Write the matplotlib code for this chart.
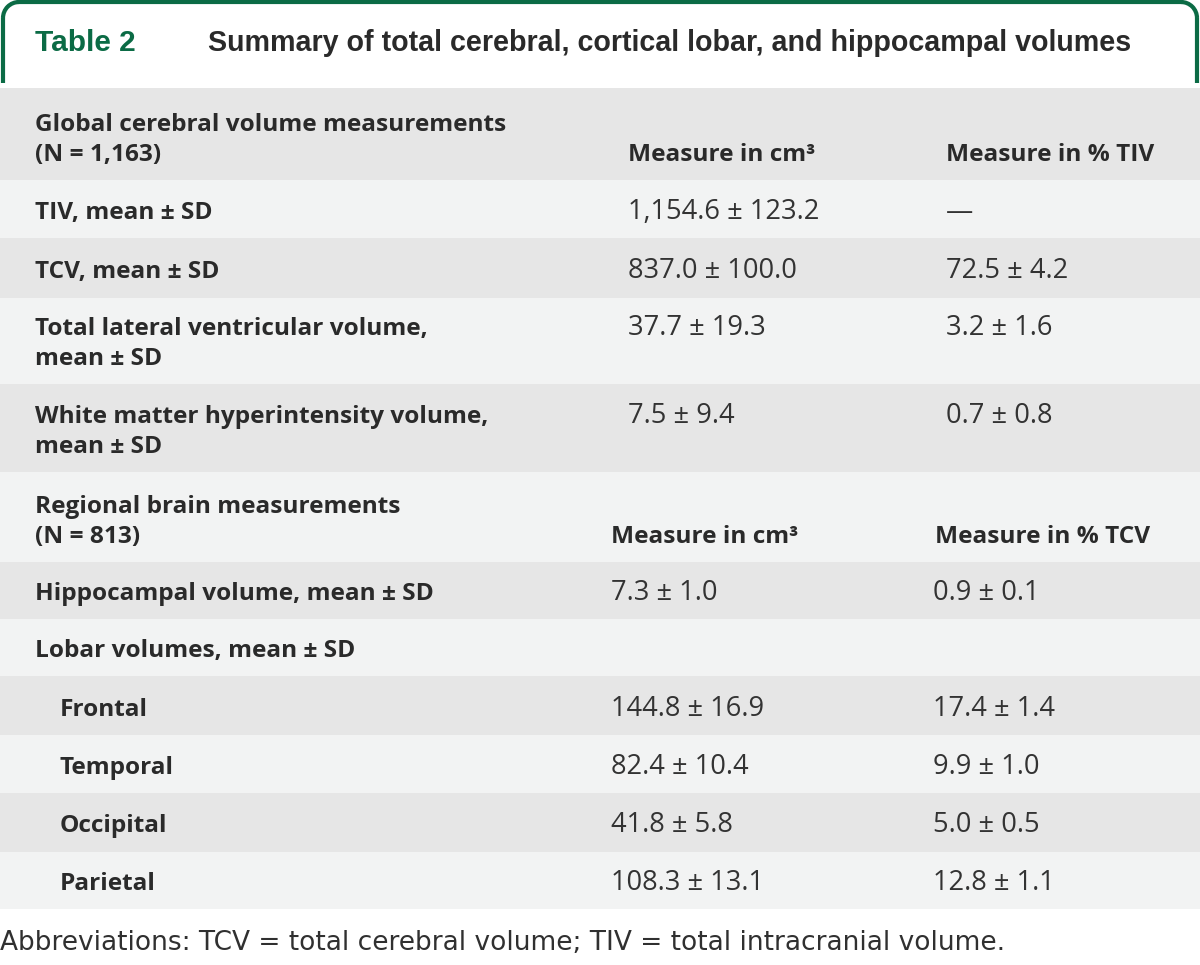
import matplotlib
matplotlib.use('Agg')
import matplotlib.pyplot as plt
from matplotlib.patches import Rectangle, Arc

# table content
title_no = "Table 2"
title = "Summary of total cerebral, cortical lobar, and hippocampal volumes"
labels = ["Global cerebral volume measurements\n(N = 1,163)",
          "TIV, mean ± SD",
          "TCV, mean ± SD",
          "Total lateral ventricular volume,\nmean ± SD",
          "White matter hyperintensity volume,\nmean ± SD",
          "Regional brain measurements\n(N = 813)",
          "Hippocampal volume, mean ± SD",
          "Lobar volumes, mean ± SD",
          "Frontal", "Temporal", "Occipital", "Parietal"]
col_cm3 = ["Measure in cm³", "1,154.6 ± 123.2", "837.0 ± 100.0", "37.7 ± 19.3",
           "7.5 ± 9.4", "Measure in cm³", "7.3 ± 1.0", "",
           "144.8 ± 16.9", "82.4 ± 10.4", "41.8 ± 5.8", "108.3 ± 13.1"]
col_pct = ["Measure in % TIV", "—", "72.5 ± 4.2", "3.2 ± 1.6",
           "0.7 ± 0.8", "Measure in % TCV", "0.9 ± 0.1", "",
           "17.4 ± 1.4", "9.9 ± 1.0", "5.0 ± 0.5", "12.8 ± 1.1"]
footnote = "Abbreviations: TCV = total cerebral volume; TIV = total intracranial volume."

# row edges in pixels
edges = [88, 180, 238, 298, 384, 472, 562, 619, 676, 735, 793, 852, 909]
header_rows = [0, 5]
indented = [8, 9, 10, 11]

dark = '#e6e6e6'
light = '#f2f3f3'
green = '#0b6b45'
txt = '#2a2a2a'

fig = plt.figure(figsize=(12, 9.65), dpi=100)
ax = fig.add_axes([0, 0, 1, 1])
ax.set_xlim(0, 1200)
ax.set_ylim(965, 0)
ax.axis('off')

# header box with rounded top corners (y axis is inverted)
r = 16
lw = 3
ax.plot([3, 3], [83, 2 + r], color=green, lw=lw, solid_capstyle='butt')
ax.plot([1197, 1197], [83, 2 + r], color=green, lw=lw, solid_capstyle='butt')
ax.plot([3 + r, 1197 - r], [2, 2], color=green, lw=lw)
ax.add_patch(Arc((3 + r, 2 + r), 2 * r, 2 * r, theta1=180, theta2=270, color=green, lw=lw))
ax.add_patch(Arc((1197 - r, 2 + r), 2 * r, 2 * r, theta1=270, theta2=360, color=green, lw=lw))

ax.text(35, 51, title_no, fontsize=21.5, family='Liberation Sans', weight='bold',
        color=green, va='baseline')
ax.text(208, 51, title, fontsize=20.6, family='Liberation Sans', weight='bold',
        color=txt, va='baseline')

bold = dict(family='Open Sans', weight='bold', color=txt, va='baseline')
reg = dict(family='Open Sans', color='#333333', va='baseline')
fs = 17.6
fv = 19.6
for i, lab in enumerate(labels):
    top, bot = edges[i], edges[i + 1]
    ax.add_patch(Rectangle((0, top), 1200, bot - top, color=dark if i % 2 == 0 else light, lw=0))
    x0 = 60 if i in indented else 35
    lines = lab.split('\n')
    if len(lines) == 2:
        y1 = bot - 49
        ax.text(x0, y1, lines[0], fontsize=fs, **bold)
        ax.text(x0, y1 + 30, lines[1], fontsize=fs, **bold)
    else:
        y1 = (top + bot) / 2 + 10
        ax.text(x0, y1, lab, fontsize=fs, **bold)
    if i in header_rows:
        xa = 628 if i == 0 else 611
        xb = 946 if i == 0 else 935
        ax.text(xa, y1 + 30, col_cm3[i], fontsize=fs, **bold)
        ax.text(xb, y1 + 30, col_pct[i], fontsize=fs, **bold)
    else:
        xa = 628 if i < 5 else 611
        xb = 946 if i < 5 else 933
        ax.text(xa, y1, col_cm3[i], fontsize=fv, **reg)
        ax.text(xb, y1, col_pct[i], fontsize=fv, **reg)

ax.text(0, 950, footnote, fontsize=19, family='DejaVu Sans', color='#303030',
        va='baseline')

fig.savefig('out.png', dpi=100, facecolor='white')
